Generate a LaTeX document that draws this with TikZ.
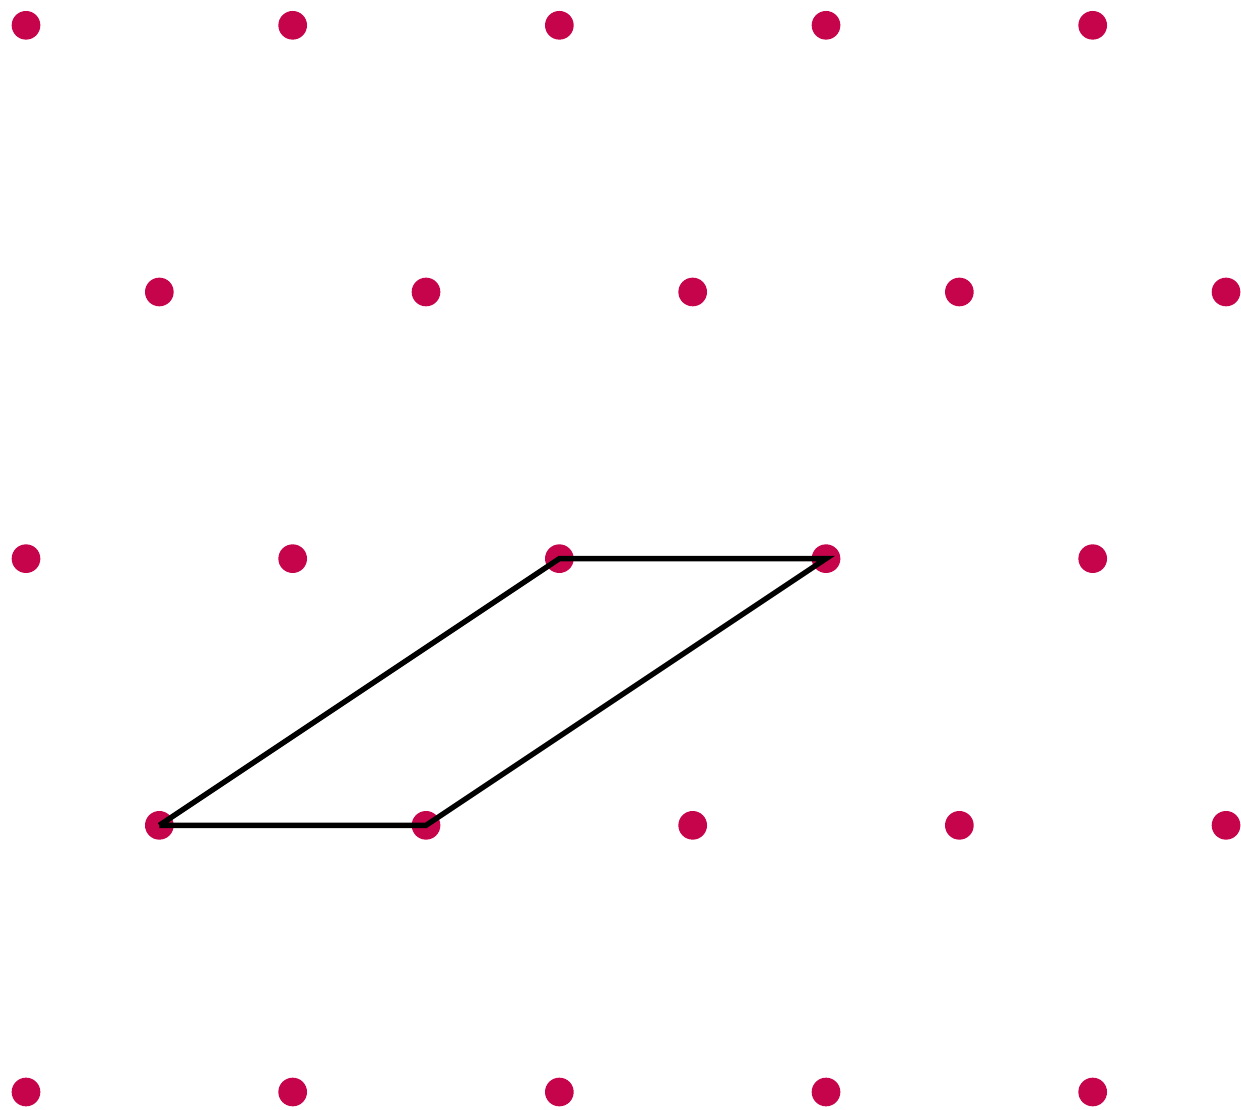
\documentclass[tikz,border=0pt]{standalone}
\usepackage{tikz}
\definecolor{latticered}{RGB}{197,4,76}
\tikzset{
  latdot/.style={circle,fill=latticered,inner sep=0pt,minimum size=2.15mm},
  cellline/.style={line width=1.15pt,draw=black}
}
\begin{document}
\begin{tikzpicture}
  \useasboundingbox (-0.195,-0.1275) rectangle (9.1125,8.19);
  % lattice points, odd rows shifted by half a step
  \foreach \j in {0,...,4}{
    \pgfmathtruncatemacro{\shift}{mod(\j,2)}
    \foreach \i in {0,...,4}{
      \node[latdot] (p-\i-\j) at ({2*\i+\shift},{2*\j}) {};
    }
  }

  % fundamental cell
  \draw[cellline] (p-0-1.center) -- (p-1-1.center) -- (p-3-2.center)
    -- (p-2-2.center) -- (p-0-1.center);
\end{tikzpicture}
\end{document}
